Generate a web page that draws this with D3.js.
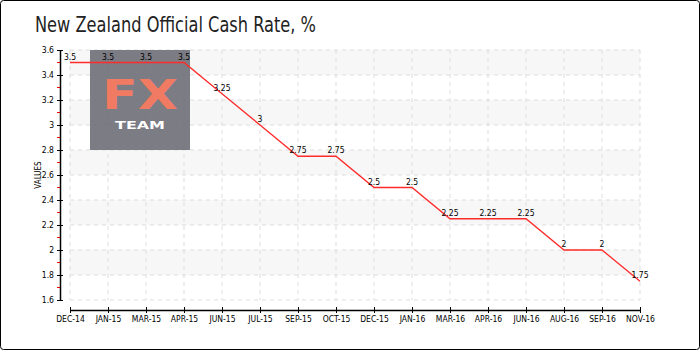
<!DOCTYPE html>
<html><head><meta charset="utf-8">
<script src="https://cdn.jsdelivr.net/npm/d3@7"></script>
<style>body{margin:0;background:#fff}svg{display:block}</style>
</head><body>
<script>
const categories = ["DEC-14","JAN-15","MAR-15","APR-15","JUN-15","JUL-15","SEP-15","OCT-15","DEC-15","JAN-16","MAR-16","APR-16","JUN-16","AUG-16","SEP-16","NOV-16"];
const rates = [3.5,3.5,3.5,3.5,3.25,3,2.75,2.75,2.5,2.5,2.25,2.25,2.25,2,2,1.75];
const yMajorTicks = [1.6,1.8,2,2.2,2.4,2.6,2.8,3,3.2,3.4,3.6];
const yMinorTicks = [1.7,1.9,2.1,2.3,2.5,2.7,2.9,3.1,3.3,3.5];
const title = "New Zealand Official Cash Rate, %";
const yTitle = "VALUES";

const W=700,H=350;
const svg=d3.select("body").append("svg").attr("width",W).attr("height",H);
svg.append("rect").attr("x",0.5).attr("y",0.5).attr("width",W-1).attr("height",H-1).attr("rx",3).attr("fill","#fff").attr("stroke","#000");

const x=d3.scalePoint().domain(categories).range([70,640]);
const y=d3.scaleLinear().domain([1.6,3.6]).range([300,50]);
const font="'DejaVu Sans Condensed','DejaVu Sans',sans-serif";

svg.append("text").attr("x",35).attr("y",32).text(title).attr("font-family",font).attr("font-size",21)
 .attr("textLength",281).attr("lengthAdjust","spacingAndGlyphs").attr("fill","#222");

// bands
const bands=[];
for(let i=0;i<yMajorTicks.length-1;i++){ if((yMajorTicks.length-2-i)%2===0) bands.push([yMajorTicks[i],yMajorTicks[i+1]]); }
svg.append("g").selectAll("rect").data(bands).join("rect")
 .attr("x",x.range()[0]).attr("width",x.range()[1]-x.range()[0])
 .attr("y",d=>y(d[1])).attr("height",d=>y(d[0])-y(d[1])).attr("fill","#f7f7f7");

// grid
const grid=svg.append("g").attr("stroke","#ddd").attr("stroke-dasharray","4,4");
grid.selectAll("line.h").data(yMajorTicks).join("line").attr("class","h")
 .attr("x1",70).attr("x2",640).attr("y1",d=>y(d)).attr("y2",d=>y(d));
grid.selectAll("line.v").data(categories).join("line").attr("class","v")
 .attr("x1",d=>x(d)).attr("x2",d=>x(d)).attr("y1",50).attr("y2",300);

// logo
const logo=svg.append("g");
logo.append("rect").attr("x",90).attr("y",50).attr("width",100).attr("height",100).attr("fill","#6e6e78").attr("opacity",0.9);
logo.append("text").attr("x",140).attr("y",109).attr("text-anchor","middle").text("FX").attr("font-family","'DejaVu Sans',sans-serif").attr("font-weight","bold").attr("font-size",40)
 .attr("textLength",76).attr("lengthAdjust","spacingAndGlyphs").attr("fill","#f07a62");
logo.append("text").attr("x",140).attr("y",129).attr("text-anchor","middle").text("TEAM").attr("font-family","'DejaVu Sans',sans-serif").attr("font-weight","bold").attr("font-size",11)
 .attr("textLength",50).attr("lengthAdjust","spacingAndGlyphs").attr("fill","#fff");

// y axis
const yAxis=svg.append("g").attr("transform","translate(60,0)")
 .call(d3.axisLeft(y).tickValues(yMajorTicks).tickFormat(d3.format("~g")).tickSize(3).tickSizeOuter(0));
yAxis.select(".domain").attr("stroke","#000").attr("stroke-width",1.5);
yAxis.selectAll(".tick line").attr("x2",3).attr("x1",-3).attr("stroke","#000");
yAxis.selectAll(".tick text").attr("x",-6).attr("font-family",font).attr("font-size",8.5).attr("fill","#000");
svg.append("g").selectAll("line").data(yMinorTicks).join("line")
 .attr("x1",57).attr("x2",60).attr("y1",d=>y(d)).attr("y2",d=>y(d)).attr("stroke","#e00").attr("stroke-width",1);
svg.append("text").attr("transform",`translate(41,175) rotate(-90)`).attr("text-anchor","middle").text(yTitle).attr("font-family",font).attr("font-size",8).attr("fill","#000");

// x axis
const xAxis=svg.append("g").attr("transform","translate(0,310)").call(d3.axisBottom(x).tickSize(3).tickSizeOuter(0));
xAxis.select(".domain").attr("stroke","#000").attr("stroke-width",1.5);
xAxis.selectAll(".tick line").attr("y1",-3).attr("y2",3).attr("stroke","#000");
xAxis.selectAll(".tick text").attr("y",6).attr("font-family",font).attr("font-size",8.5).attr("fill","#000");

// line
const line=d3.line().x((d,i)=>x(categories[i])).y(d=>y(d));
svg.append("path").datum(rates).attr("d",line).attr("fill","none").attr("stroke","#ff2a2a").attr("stroke-width",1.3);

// labels
svg.append("g").selectAll("text").data(rates).join("text")
 .attr("x",(d,i)=>x(categories[i])).attr("y",d=>y(d)-3).attr("text-anchor","middle")
 .text(d=>d3.format("~g")(d)).attr("font-family",font).attr("font-size",8.5).attr("fill","#000");
</script>
</body></html>
